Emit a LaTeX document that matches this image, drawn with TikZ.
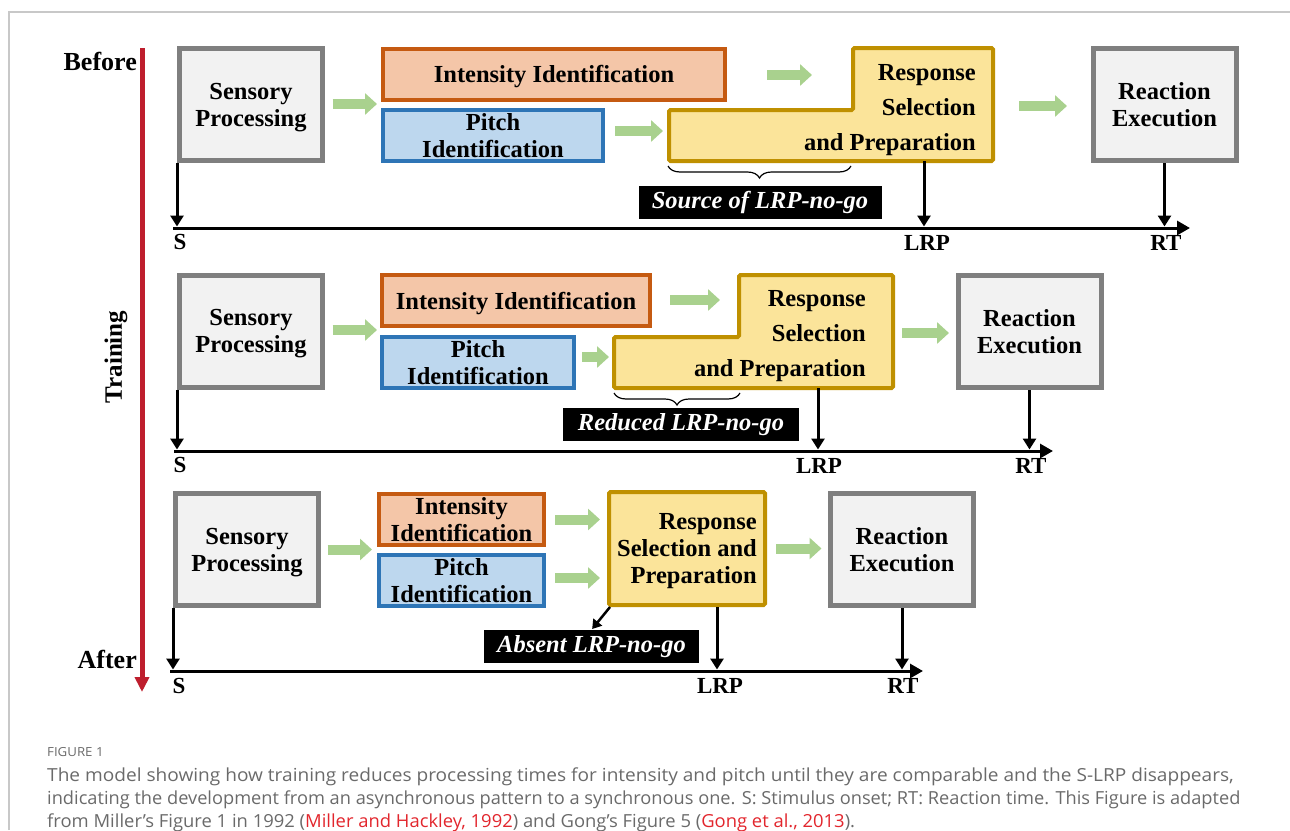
\documentclass[tikz,border=0pt]{standalone}
\usepackage{fontspec}
\setmainfont{Liberation Serif}
\newfontfamily\capfont[FakeStretch=1.06]{Open Sans}
\usetikzlibrary{arrows.meta,decorations.pathreplacing}

\definecolor{stagedraw}{HTML}{7F7F7F}
\definecolor{stagefill}{HTML}{F2F2F2}
\definecolor{intdraw}{HTML}{C55A11}
\definecolor{intfill}{HTML}{F4C6A8}
\definecolor{pitchdraw}{HTML}{2E75B6}
\definecolor{pitchfill}{HTML}{BDD7EE}
\definecolor{respdraw}{HTML}{BF9000}
\definecolor{respfill}{HTML}{FBE49A}
\definecolor{flowgreen}{HTML}{A9D18E}
\definecolor{trainred}{HTML}{BE1E2D}
\definecolor{framegray}{HTML}{C8C8C8}
\definecolor{captext}{HTML}{6A6A6A}
\definecolor{citered}{HTML}{E2262D}

\begin{document}
\begin{tikzpicture}[
  x=1pt, y=-1pt,
  every node/.style={inner sep=0pt, font=\fontsize{24.5}{27}\selectfont\bfseries},
  stage/.style={draw=stagedraw, fill=stagefill, line width=5pt, align=center,
    text depth=0pt, minimum width=143pt, minimum height=112pt},
  ident/.style={line width=4pt, align=center, text depth=0pt, minimum height=51pt},
  intbox/.style={ident, draw=intdraw, fill=intfill},
  pitchbox/.style={ident, draw=pitchdraw, fill=pitchfill},
  respbox/.style={draw=respdraw, fill=respfill, line width=4pt, rounded corners=1.5pt},
  resptext/.style={align=right, anchor=east, font=\fontsize{24.5}{35}\selectfont\bfseries},
  flow/.style={draw=flowgreen, line width=10pt, -{Triangle[length=12pt, width=21pt]}},
  tick/.style={draw, line width=3pt, -{Triangle[length=11pt, width=13pt]}},
  axis/.style={draw, line width=3pt, -{Triangle[length=13pt, width=14pt]}},
  note/.style={fill=black, text=white, minimum height=33pt,
    font=\fontsize{24.5}{27}\selectfont\bfseries\itshape},
  brace/.style={draw, line width=1.2pt, decorate,
    decoration={brace, amplitude=12pt, mirror}},
  tlabel/.style={font=\fontsize{23}{25}\selectfont\bfseries},
  stagelabel/.style={anchor=east, font=\fontsize{26}{28}\selectfont\bfseries},
  caption/.style={anchor=west, text=captext, font=\capfont\fontsize{18}{20}\selectfont}]

  \useasboundingbox (0,0) rectangle (1290,830);

  %% ---------------- frame and training arrow ----------------
  \draw[framegray, line width=1.2pt] (9,830) -- (9,12) -- (1290,12);
  \coordinate (trainTop) at (142,48);
  \coordinate (trainEnd) at (142,692);
  \draw[trainred, line width=5pt, -{Triangle[length=15pt, width=14pt]}] (trainTop) -- (trainEnd);
  \node[stagelabel] (before) at (137,61) {Before};
  \node[font=\fontsize{25}{27}\selectfont\bfseries, rotate=90] (training) at (116,357) {Training};
  \node[stagelabel] (after) at (137,659) {After};

  %% ---------------- part a: before ----------------
  % stages
  \node[stage] (sensA) at (251,104.5) {Sensory\\Processing};
  \node[intbox, minimum width=342pt] (intA) at (554,74) {Intensity Identification};
  \node[pitchbox, minimum width=220pt] (pitchA) at (493,135.5) {Pitch\\Identification};
  \path[respbox] (853,48) -- (993,48) -- (993,161) -- (669,161) -- (669,110) -- (853,110) -- cycle;
  \node[resptext] (respA) at (976,110) {Response\\Selection\\and Preparation};
  \node[stage] (reaA) at (1164.5,104.5) {Reaction\\Execution};
  \coordinate (respAw) at (669,131);
  \coordinate (respAt) at (853,75);
  \coordinate (respAe) at (993,106);
  \coordinate (respAb) at (924,161);
  % flow arrows
  \draw[flow, shorten <=7.5pt, shorten >=4pt] ([yshift=0.5pt]sensA.east) -- ([yshift=0.5pt]sensA.east -| intA.west);
  \draw[flow, shorten <=10pt, shorten >=6pt] (respAw -| pitchA.east) -- (respAw);
  \draw[flow, shorten <=40pt, shorten >=41pt] (respAt -| intA.east) -- (respAt);
  \draw[flow, shorten <=26pt, shorten >=23.5pt] (respAe) -- (respAe -| reaA.west);
  % brace and note
  \coordinate (braceAl) at (668,166);
  \coordinate (braceAr) at (851,166);
  \draw[brace] (braceAl) -- (braceAr);
  \node[note, minimum width=243pt] (noteA) at (760,202) {Source of LRP-no-go};
  % time axis
  \coordinate (axAs) at (173,228);
  \coordinate (axAe) at (1190,228);
  \draw[axis] (axAs) -- (axAe);
  \draw[tick, shorten >=1.5pt] (sensA.south west) -- (sensA.south west |- axAs);
  \draw[tick, shorten >=1.5pt] (respAb) -- (respAb |- axAs);
  \draw[tick, shorten >=1.5pt] (reaA.south) -- (reaA.south |- axAs);
  \node[tlabel] (sA) at (180,242) {S};
  \node[tlabel] (lrpA) at (927,243) {LRP};
  \node[tlabel] (rtA) at (1166,243) {RT};

  %% ---------------- part b: training ----------------
  % stages
  \node[stage] (sensB) at (251,331) {Sensory\\Processing};
  \node[intbox, minimum width=268pt] (intB) at (516,300.5) {Intensity Identification};
  \node[pitchbox, minimum width=192pt] (pitchB) at (478,362.5) {Pitch\\Identification};
  \path[respbox] (739,275) -- (893,275) -- (893,388) -- (614,388) -- (614,337) -- (739,337) -- cycle;
  \node[resptext] (respB) at (866,336) {Response\\Selection\\and Preparation};
  \node[stage] (reaB) at (1029.5,331.5) {Reaction\\Execution};
  \coordinate (respBw) at (614,357);
  \coordinate (respBt) at (739,300);
  \coordinate (respBe) at (893,333);
  \coordinate (respBb) at (818,388);
  % flow arrows
  \draw[flow, shorten <=7.5pt, shorten >=3pt] ([yshift=1pt]sensB.east) -- ([yshift=1pt]sensB.east -| intB.west);
  \draw[flow, shorten <=6pt, shorten >=5pt] (respBw -| pitchB.east) -- (respBw);
  \draw[flow, shorten <=18pt, shorten >=19pt] (respBt -| intB.east) -- (respBt);
  \draw[flow, shorten <=9pt, shorten >=6.5pt] (respBe) -- (respBe -| reaB.west);
  % brace and note
  \coordinate (braceBl) at (614,393);
  \coordinate (braceBr) at (740,393);
  \draw[brace] (braceBl) -- (braceBr);
  \node[note, minimum width=236pt] (noteB) at (681,424.5) {Reduced LRP-no-go};
  % time axis
  \coordinate (axBs) at (174,451);
  \coordinate (axBe) at (1053,451);
  \draw[axis] (axBs) -- (axBe);
  \draw[tick, shorten >=1.5pt] (sensB.south west) -- (sensB.south west |- axBs);
  \draw[tick, shorten >=1.5pt] (respBb) -- (respBb |- axBs);
  \draw[tick, shorten >=1.5pt] (reaB.south) -- (reaB.south |- axBs);
  \node[tlabel] (sB) at (180,465) {S};
  \node[tlabel] (lrpB) at (819,466) {LRP};
  \node[tlabel] (rtB) at (1031,466) {RT};

  %% ---------------- part c: after ----------------
  % stages
  \node[stage] (sensC) at (247,549.5) {Sensory\\Processing};
  \node[intbox, minimum width=165pt] (intC) at (461.5,519.5) {Intensity\\Identification};
  \node[pitchbox, minimum width=165pt] (pitchC) at (461.5,580.5) {Pitch\\Identification};
  \node[respbox, align=right, text depth=0pt, minimum width=156pt, minimum height=113pt] (respC) at (687,548.5)
    {Response\\Selection and\\Preparation};
  \node[stage] (reaC) at (902,549.5) {Reaction\\Execution};
  % flow arrows
  \draw[flow, shorten <=6.5pt, shorten >=5pt] (sensC.east) -- (sensC.east -| intC.west);
  \draw[flow, shorten <=9pt, shorten >=7pt] (intC.east) -- (intC.east -| respC.west);
  \draw[flow, shorten <=9pt, shorten >=7pt] ([yshift=2.5pt]pitchC.east) -- ([yshift=2.5pt]pitchC.east -| respC.west);
  \draw[flow, shorten <=9pt, shorten >=6.5pt] (respC.east) -- (respC.east -| reaC.west);
  % note
  \node[note, minimum width=215pt] (noteC) at (591.5,646.5) {Absent LRP-no-go};
  \draw[tick, line width=2.5pt, -{Triangle[length=9pt, width=11pt]}, shorten >=1pt]
    ([xshift=3pt]respC.south west) -- (noteC.north);
  % time axis
  \coordinate (axCs) at (170,671);
  \coordinate (axCe) at (923,671);
  \draw[axis] (axCs) -- (axCe);
  \draw[tick, shorten >=1.5pt] (sensC.south west) -- (sensC.south west |- axCs);
  \draw[tick, shorten >=1.5pt] ([xshift=30pt]respC.south) -- ([xshift=30pt]respC.south |- axCs);
  \draw[tick, shorten >=1.5pt] (reaC.south) -- (reaC.south |- axCs);
  \node[tlabel] (sC) at (179,686) {S};
  \node[tlabel] (lrpC) at (720,686) {LRP};
  \node[tlabel] (rtC) at (903,686) {RT};

  %% ---------------- caption ----------------
  \node[caption, font=\capfont\fontsize{12.5}{14}\selectfont] (figlab) at (47,752) {FIGURE 1};
  \node[caption] (capA) at (47,777) {The model showing how training reduces processing times for intensity and pitch until they are comparable and the S-LRP disappears,};
  \node[caption] (capB) at (47,800) {\scalebox{0.955}[1]{indicating the development from an asynchronous pattern to a synchronous one. S: Stimulus onset; RT: Reaction time. This Figure is adapted}};
  \node[caption] (capC) at (47,823) {\scalebox{0.965}[1]{from Miller’s Figure 1 in 1992 ({\color{citered}Miller and Hackley, 1992}) and Gong’s Figure 5 ({\color{citered}Gong et al., 2013}).}};

\end{tikzpicture}
\end{document}
